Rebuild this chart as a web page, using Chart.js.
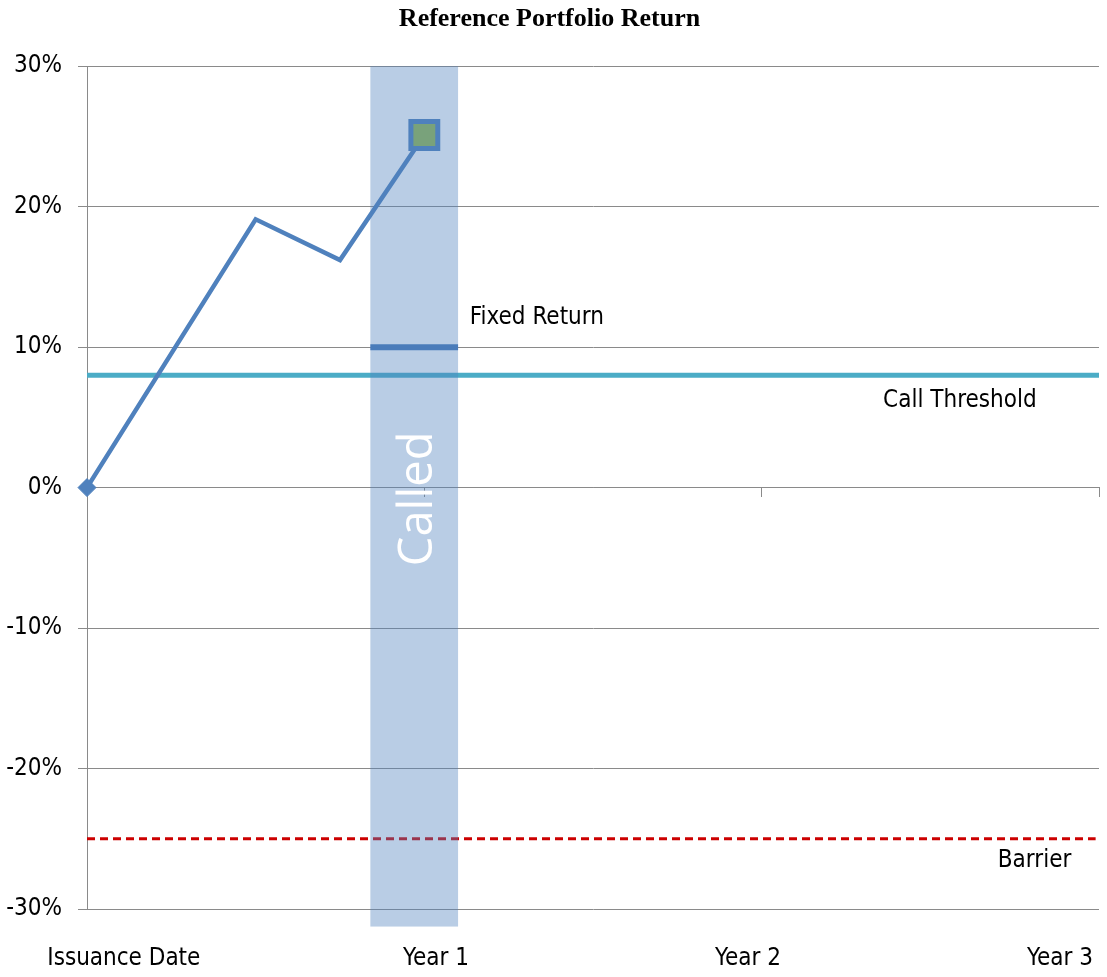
<!DOCTYPE html>
<html>
<head>
<meta charset="utf-8">
<script src="https://cdn.jsdelivr.net/npm/chart.js@4"></script>
<style>
html, body { margin: 0; padding: 0; background: #fff; }
#wrap { width: 1107px; height: 977px; }
</style>
</head>
<body>
<div id="wrap"><canvas id="chart"></canvas></div>
<script>
// portfolio path: years since issuance vs return in %
const pathYears = [0, 0.5, 0.75, 1]
const pathReturns = [0, 19.1, 16.2, 25.1]

// reference levels in %
const callThreshold = 8
const barrier = -25
const fixedReturn = 10

// the "Called" window (years) and how far it reaches (%)
const calledStart = 0.84
const calledEnd = 1.10
const calledTop = 30
const calledBottom = -31.25

const xLabels = ['Issuance Date', 'Year 1', 'Year 2', 'Year 3']
const yMin = -30
const yMax = 30
const yStep = 10

const labelFont = {family: "'DejaVu Sans Condensed', 'DejaVu Sans', sans-serif", size: 24}
const gridGray = '#8a8a8a'
const lineBlue = '#4f81bd'

//text labels next to the lines, in data units (years, %)
const notes = [
    {text: 'Fixed Return', x: 1.135, y: 12.1},
    {text: 'Call Threshold', x: 2.36, y: 6.2},
    {text: 'Barrier', x: 2.70, y: -26.6}
]

//called band goes on top of the threshold line but under the path
const calledBand = {
    id: 'calledBand',
    afterDatasetDraw(chart, args) {
        if (args.meta.label != 'Call Threshold') return
        let x = chart.scales.x
        let y = chart.scales.y
        let ctx = chart.ctx
        let left = x.getPixelForValue(calledStart)
        let right = x.getPixelForValue(calledEnd)
        let top = y.getPixelForValue(calledTop)
        let bottom = y.getPixelForValue(calledBottom)
        ctx.save()
        ctx.fillStyle = 'rgba(79, 129, 189, 0.4)'
        ctx.fillRect(left, top, right - left, bottom - top)
        ctx.restore()
    },
    afterDatasetsDraw(chart) {
        let x = chart.scales.x
        let y = chart.scales.y
        let ctx = chart.ctx
        ctx.save()
        ctx.fillStyle = '#000'
        ctx.font = `${labelFont.size}px ${labelFont.family}`
        ctx.textAlign = 'left'
        ctx.textBaseline = 'middle'
        notes.forEach(n => ctx.fillText(n.text, x.getPixelForValue(n.x), y.getPixelForValue(n.y)))

        // rotated "Called" inside the band
        let cx = (x.getPixelForValue(calledStart) + x.getPixelForValue(calledEnd)) / 2
        let cy = y.getPixelForValue(-0.8)
        ctx.translate(cx + 18, cy)
        ctx.rotate(-Math.PI / 2)
        ctx.fillStyle = '#fff'
        ctx.font = "47px 'Open Sans', sans-serif"
        ctx.textAlign = 'center'
        ctx.textBaseline = 'alphabetic'
        ctx.fillText('Called', 0, 0)
        ctx.restore()
    }
}

const lastIdx = pathYears.length - 1

new Chart(document.querySelector('#chart'), {
    type: 'line',
    data: {
        datasets: [
            {
                label: 'Portfolio',
                xAxisID: 'x',
                data: pathYears.map((t, i) => ({x: t, y: pathReturns[i]})),
                borderColor: lineBlue,
                borderWidth: 4.5,
                pointStyle: ctx => ctx.dataIndex == lastIdx ? 'rect' : 'rectRot',
                pointRadius: ctx => ctx.dataIndex == 0 ? 9 : ctx.dataIndex == lastIdx ? 19 : 0,
                pointBackgroundColor: ctx => ctx.dataIndex == lastIdx ? '#79a27b' : lineBlue,
                pointBorderColor: lineBlue,
                pointBorderWidth: ctx => ctx.dataIndex == lastIdx ? 5 : 1,
                tension: 0,
                clip: false,
                order: 0
            },
            {
                label: 'Fixed Return',
                xAxisID: 'x',
                data: [{x: calledStart, y: fixedReturn}, {x: calledEnd, y: fixedReturn}],
                borderColor: '#4a7cba',
                borderWidth: 6,
                pointRadius: 0,
                order: 1
            },
            {
                label: 'Call Threshold',
                xAxisID: 'x',
                data: [{x: 0, y: callThreshold}, {x: 3, y: callThreshold}],
                borderColor: '#4bacc6',
                borderWidth: 5,
                pointRadius: 0,
                order: 2
            },
            {
                label: 'Barrier',
                xAxisID: 'x',
                data: [{x: 0, y: barrier}, {x: 2.99, y: barrier}],
                borderColor: '#cc0000',
                borderWidth: 3,
                borderDash: [8, 5],
                pointRadius: 0,
                order: 3
            }
        ]
    },
    options: {
        responsive: true,
        maintainAspectRatio: false,
        animation: false,
        layout: {autoPadding: false, padding: {left: 0, right: 8, top: 0, bottom: 4}},
        plugins: {
            legend: {display: false},
            tooltip: {enabled: false},
            title: {
                display: true,
                text: 'Reference Portfolio Return',
                color: '#000',
                font: {family: "'Liberation Serif', 'Times New Roman', serif", size: 26, weight: 'bold'},
                padding: {top: 4, bottom: 31}
            }
        },
        scales: {
            x: {
                type: 'linear',
                min: 0,
                max: 3,
                position: {y: 0},
                ticks: {display: false, stepSize: 1},
                grid: {drawOnChartArea: false, color: gridGray, tickLength: 9},
                border: {color: gridGray}
            },
            xl: {
                type: 'linear',
                position: 'bottom',
                min: -0.118,
                max: 3.125,
                afterBuildTicks: s => { s.ticks = xLabels.map((_, i) => ({value: i})) },
                //keep the label row from pushing the plot around
                afterFit: s => {
                    s.height = 64
                    s.paddingLeft = 0
                    s.paddingRight = 0
                    s.paddingTop = 0
                    s.paddingBottom = 0
                },
                ticks: {
                    callback: v => xLabels[v],
                    color: '#000',
                    font: labelFont,
                    padding: 35,
                    maxRotation: 0,
                    autoSkip: false
                },
                grid: {display: false, drawTicks: false},
                border: {display: false}
            },
            y: {
                min: yMin,
                max: yMax,
                ticks: {
                    stepSize: yStep,
                    callback: v => v + '%',
                    color: '#000',
                    font: labelFont,
                    padding: 16
                },
                grid: {
                    color: gridGray,
                    tickLength: 9,
                    tickColor: ctx => ctx.tick && ctx.tick.value == 0 ? 'rgba(0,0,0,0)' : gridGray
                },
                border: {color: gridGray},
                afterFit: s => { s.width = 87 }
            }
        }
    },
    plugins: [calledBand]
})
</script>
</body>
</html>
